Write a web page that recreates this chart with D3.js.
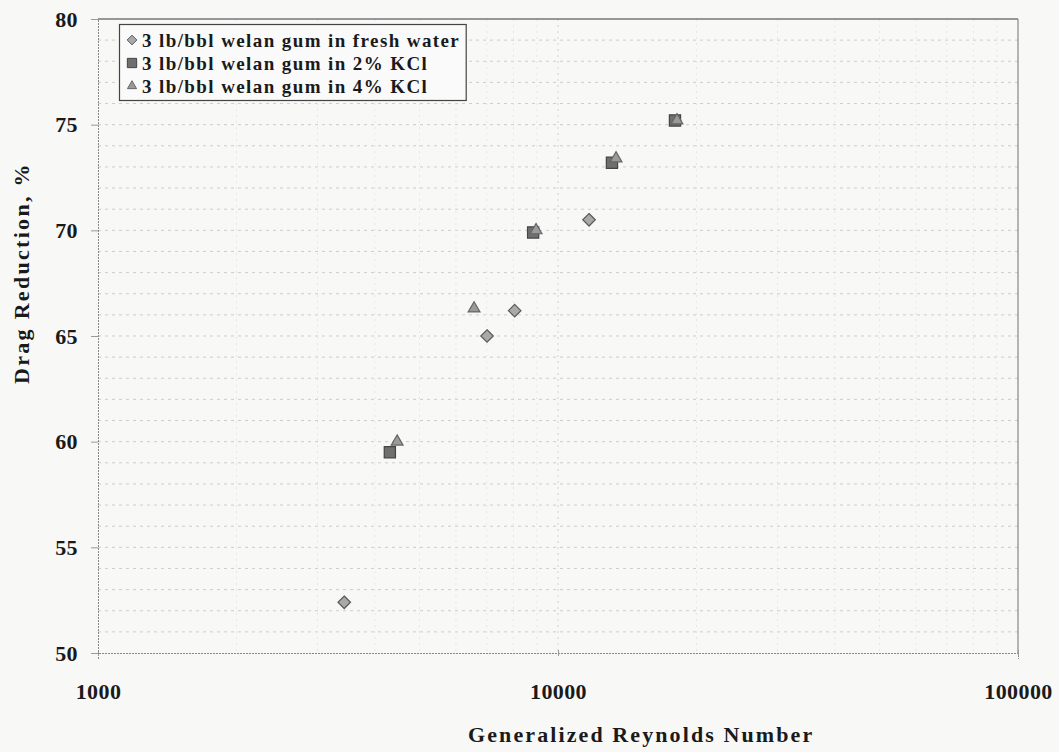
<!DOCTYPE html>
<html>
<head>
<meta charset="utf-8">
<script src="https://cdn.jsdelivr.net/npm/d3@7"></script>
<style>
  body { margin: 0; background: #f8f8f7; }
  svg { display: block; font-family: "Liberation Serif", "Times New Roman", serif; }
  .tick text { font-family: "Liberation Serif", "Times New Roman", serif; font-weight: bold; font-size: 22px; fill: #1a1a1a; letter-spacing: 0.4px; }
</style>
</head>
<body>
<div id="chart"></div>
<script>
const width = 1059;
const height = 752;
const margin = { top: 19, right: 41, bottom: 99, left: 98 };

// data
const seriesNames = [
  '3 lb/bbl welan gum in fresh water',
  '3 lb/bbl welan gum in 2% KCl',
  '3 lb/bbl welan gum in 4% KCl'
];
const freshRe = [3430, 7010, 8050, 11680];
const freshDR = [52.4, 65.0, 66.2, 70.5];
const kcl2Re = [4310, 8830, 13100, 17960];
const kcl2DR = [59.5, 69.9, 73.2, 75.2];
const kcl4Re = [4470, 6570, 8960, 13370, 18140];
const kcl4DR = [60.0, 66.3, 70.0, 73.4, 75.2];
const xTicks = [1000, 10000, 100000];
const yTicks = [50, 55, 60, 65, 70, 75, 80];

const inner = {
  left: margin.left,
  right: width - margin.right,
  top: margin.top,
  bottom: 653
};

const xScale = d3.scaleLog().domain([1000, 100000]).range([inner.left, inner.right]);
const yScale = d3.scaleLinear().domain([50, 80]).range([inner.bottom, inner.top]);

const svg = d3.select('#chart').append('svg')
  .attr('width', width).attr('height', height);

// minor gridlines
const grid = svg.append('g').attr('class', 'grid');
const yMinor = d3.range(51, 80);
grid.selectAll('line.hy').data(yMinor).join('line')
  .attr('x1', inner.left).attr('x2', inner.right)
  .attr('y1', d => yScale(d)).attr('y2', d => yScale(d))
  .attr('stroke', '#cdcdcd').attr('stroke-width', 1)
  .attr('stroke-dasharray', '3,4');
const xMinor = [];
for (const dec of [1000, 10000]) {
  for (let k = 2; k <= 9; k++) xMinor.push(dec * k);
}
xMinor.push(10000);
grid.selectAll('line.vx').data(xMinor).join('line')
  .attr('x1', d => xScale(d)).attr('x2', d => xScale(d))
  .attr('y1', inner.top).attr('y2', inner.bottom)
  .attr('stroke', d => d === 10000 ? '#d2d2d2' : '#e6e6e6').attr('stroke-width', 1)
  .attr('stroke-dasharray', '2,4');

// plot border
svg.append('line').attr('x1', inner.left).attr('x2', inner.right)
  .attr('y1', inner.top).attr('y2', inner.top).attr('stroke', '#777').attr('stroke-width', 1.5);
svg.append('line').attr('x1', inner.right).attr('x2', inner.right)
  .attr('y1', inner.top).attr('y2', inner.bottom).attr('stroke', '#888').attr('stroke-width', 1.2);

// axes
const xAxis = d3.axisBottom(xScale).tickValues(xTicks).tickFormat(d3.format('d'))
  .tickSize(6).tickPadding(24);
svg.append('g').attr('class', 'x-axis')
  .attr('transform', `translate(0,${inner.bottom})`)
  .call(xAxis)
  .call(g => g.attr('font-family', null).attr('font-size', null))
  .call(g => g.select('.domain').attr('stroke', '#888').attr('stroke-dasharray', '2,1'))
  .call(g => g.selectAll('.tick line').attr('stroke', '#999').attr('transform', 'translate(0,-3)'));

const yAxis = d3.axisLeft(yScale).tickValues(yTicks).tickSize(7).tickPadding(13);
svg.append('g').attr('class', 'y-axis')
  .attr('transform', `translate(${inner.left},0)`)
  .call(yAxis)
  .call(g => g.attr('font-family', null).attr('font-size', null))
  .call(g => g.select('.domain').attr('stroke', '#888').attr('stroke-dasharray', '2,1'))
  .call(g => g.selectAll('.tick line').attr('stroke', '#999'));

// axis titles
svg.append('text')
  .attr('x', 468).attr('y', 742)
  .attr('font-weight', 'bold').attr('font-size', 22).attr('fill', '#1a1a1a')
  .attr('letter-spacing', 2.1)
  .text('Generalized Reynolds Number');
svg.append('text')
  .attr('transform', 'translate(29,384) rotate(-90)')
  .attr('font-weight', 'bold').attr('font-size', 22).attr('fill', '#1a1a1a')
  .attr('letter-spacing', 2.3)
  .text('Drag Reduction, %');

// markers
const symTypes = { diamond: d3.symbolDiamond2, square: d3.symbolSquare2, triangle: d3.symbolTriangle2 };
const styles = [
  { shape: 'diamond', fill: '#a9a9a9', stroke: '#5a5a5a', size: 100, lsize: 60 },
  { shape: 'square', fill: '#6f6f6f', stroke: '#444', size: 160, lsize: 110 },
  { shape: 'triangle', fill: '#9a9a9a', stroke: '#666', size: 100, lsize: 60 }
];
const seriesData = [
  freshRe.map((x, i) => ({ x, y: freshDR[i] })),
  kcl2Re.map((x, i) => ({ x, y: kcl2DR[i] })),
  kcl4Re.map((x, i) => ({ x, y: kcl4DR[i] }))
];

const dots = svg.append('g').attr('class', 'dots');
seriesData.forEach((pts, s) => {
  const st = styles[s];
  dots.append('g').selectAll('path').data(pts).join('path')
    .attr('transform', d => `translate(${xScale(d.x)},${yScale(d.y)})`)
    .attr('d', d3.symbol().type(symTypes[st.shape]).size(st.size)())
    .attr('fill', st.fill).attr('stroke', st.stroke).attr('stroke-width', 1.2);
});

// legend
const legend = svg.append('g').attr('class', 'legend');
const rows = legend.selectAll('g').data(seriesNames).join('g')
  .attr('transform', (d, i) => `translate(0,${40 + i * 23})`);
rows.append('path')
  .attr('transform', 'translate(132,0)')
  .attr('d', (d, i) => d3.symbol().type(symTypes[styles[i].shape]).size(styles[i].lsize)())
  .attr('fill', (d, i) => styles[i].fill).attr('stroke', (d, i) => styles[i].stroke).attr('stroke-width', 1);
const labels = rows.append('text')
  .attr('x', 142).attr('y', 7)
  .attr('font-weight', 'bold').attr('font-size', 19).attr('fill', '#1a1a1a')
  .attr('letter-spacing', 1.4)
  .text(d => d);
const maxW = d3.max(labels.nodes(), n => n.getComputedTextLength());
legend.insert('rect', ':first-child')
  .attr('x', 119.5).attr('y', 24.5).attr('width', 142 + maxW + 6 - 119.5).attr('height', 76)
  .attr('fill', '#fafafa').attr('stroke', '#444').attr('stroke-width', 1.2);
</script>
</body>
</html>
